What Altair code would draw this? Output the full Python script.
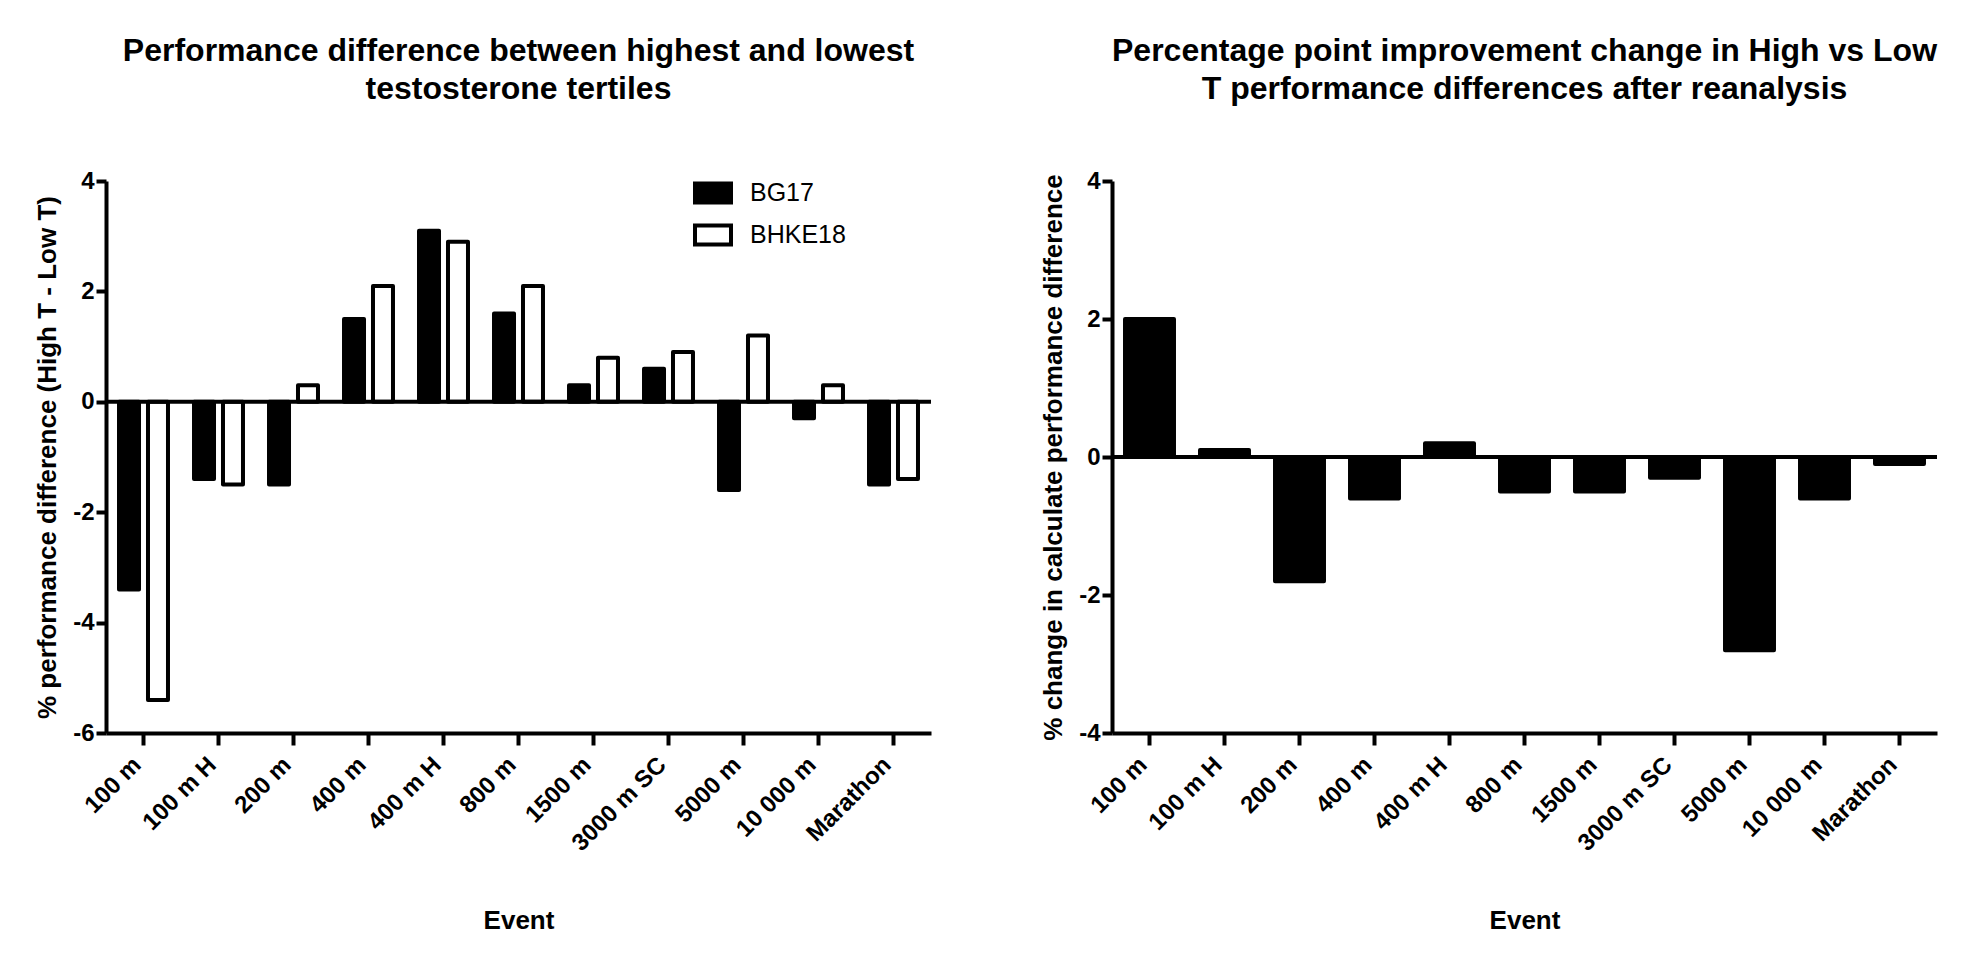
import altair as alt
import pandas as pd

events = ["100 m", "100 m H", "200 m", "400 m", "400 m H", "800 m",
          "1500 m", "3000 m SC", "5000 m", "10 000 m", "Marathon"]
bg17 = [-3.4, -1.4, -1.5, 1.5, 3.1, 1.6, 0.3, 0.6, -1.6, -0.3, -1.5]
bhke18 = [-5.4, -1.5, 0.3, 2.1, 2.9, 2.1, 0.8, 0.9, 1.2, 0.3, -1.4]
change = [2.0, 0.1, -1.8, -0.6, 0.2, -0.5, -0.5, -0.3, -2.8, -0.6, -0.1]
series = ["BG17", "BHKE18"]
left_ticks = [-6, -4, -2, 0, 2, 4]
right_ticks = [-4, -2, 0, 2, 4]
left_title = ["Performance difference between highest and lowest", "testosterone tertiles"]
right_title = ["Percentage point improvement change in High vs Low",
               "T performance differences after reanalysis"]
left_ytitle = "% performance difference (High T - Low T)"
right_ytitle = "% change in calculate performance difference"
x_title = "Event"

FONT = "Liberation Sans"

df_left = pd.DataFrame({
    "Event": events * 2,
    "Study": [series[0]] * len(events) + [series[1]] * len(events),
    "Value": bg17 + bhke18,
})
df_right = pd.DataFrame({"Event": events, "Value": change})
df_zero = pd.DataFrame({"v": [0]})


def x_enc():
    return alt.X(
        "Event:N", sort=events, title=x_title,
        scale=alt.Scale(paddingInner=0.347, paddingOuter=0.1735),
        axis=alt.Axis(labelAngle=-45, labelAlign="right", labelBaseline="middle",
                      labelPadding=16, labelOffset=-6, tickSize=12, titlePadding=52),
    )


def y_enc(field, dom, ticks, title):
    return alt.Y(
        field, title=title,
        scale=alt.Scale(domain=dom, nice=False, zero=False),
        axis=alt.Axis(values=ticks, tickSize=10, labelPadding=2, titlePadding=12,
                      labelExpr="'' + datum.value"),
    )


def make_title(lines):
    return alt.TitleParams(text=lines, fontSize=32, font=FONT, fontWeight="bold",
                           anchor="middle", frame="group", offset=63, lineHeight=38,
                           color="black")


left_bars = alt.Chart(df_left).mark_bar(stroke="black", strokeWidth=4, strokeJoin="round").encode(
    x=x_enc(),
    xOffset=alt.XOffset("Study:N", sort=series,
                        scale=alt.Scale(paddingInner=0.31, paddingOuter=0)),
    y=y_enc("Value:Q", [-6, 4], left_ticks, left_ytitle),
    fill=alt.Fill("Study:N", sort=series,
                  scale=alt.Scale(domain=series, range=["black", "white"]),
                  legend=alt.Legend(title=None, orient="none", legendX=585, legendY=-10,
                                    symbolType="M-0.9,-0.475H0.9V0.475H-0.9Z",
                                    symbolSize=1600, symbolStrokeColor="black",
                                    symbolStrokeWidth=4, symbolOpacity=1,
                                    labelFontSize=25, labelFont=FONT, labelColor="black",
                                    labelOffset=15, rowPadding=2)),
)
left_zero = alt.Chart(df_zero).mark_rule(color="black", strokeWidth=4).encode(y="v:Q")
left = alt.layer(left_bars, left_zero).properties(
    width=825, height=552, title=make_title(left_title))

right_bars = alt.Chart(df_right).mark_bar(color="black", stroke="black", strokeWidth=4,
                                          strokeJoin="round").encode(
    x=x_enc(),
    y=y_enc("Value:Q", [-4, 4], right_ticks, right_ytitle),
)
right_zero = alt.Chart(df_zero).mark_rule(color="black", strokeWidth=4).encode(y="v:Q")
right = alt.layer(right_bars, right_zero).properties(
    width=825, height=552, title=make_title(right_title))

chart = alt.hconcat(left, right, spacing=107).resolve_scale(y="independent").configure(
    padding={"left": 26, "top": 27, "right": 5, "bottom": 5},
    background="white",
).configure_view(stroke=None).configure_axis(
    domainColor="black", domainWidth=4, tickColor="black", tickWidth=4,
    labelColor="black", labelFont=FONT, labelFontSize=24, labelFontWeight="bold",
    titleColor="black", titleFont=FONT, titleFontSize=26, titleFontWeight="bold",
    grid=False,
)

chart.save("out.html", embed_options={"renderer": "svg", "actions": False})
